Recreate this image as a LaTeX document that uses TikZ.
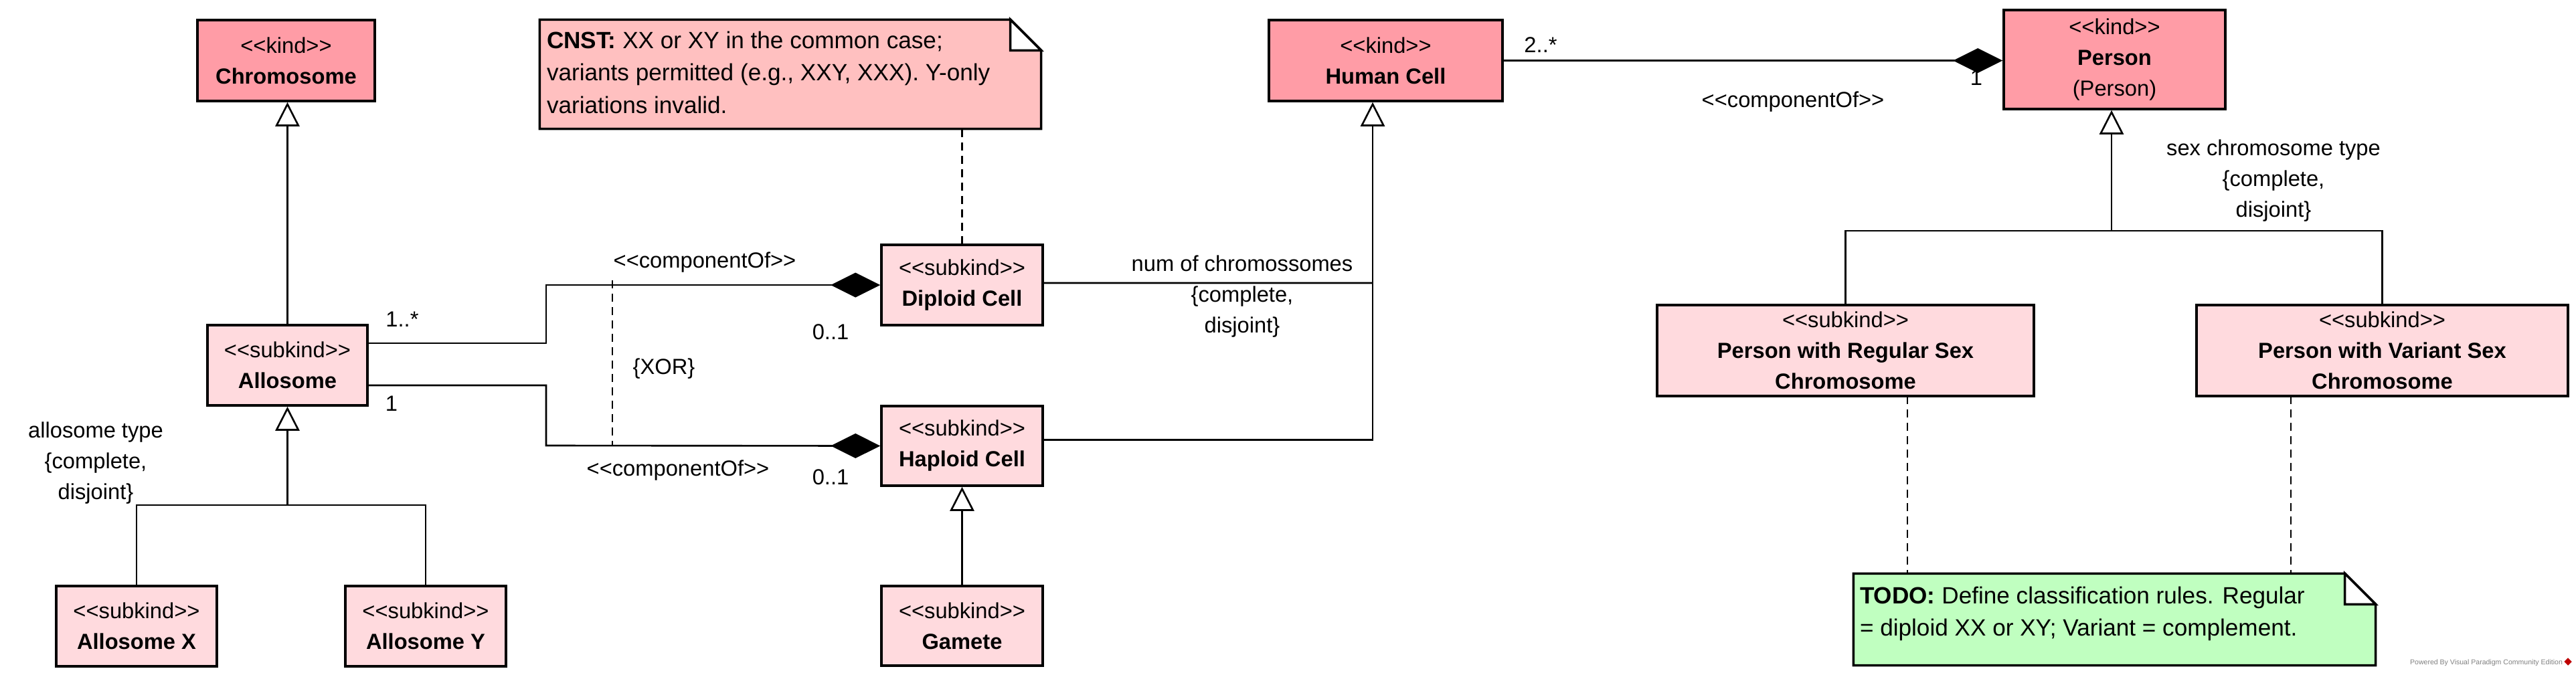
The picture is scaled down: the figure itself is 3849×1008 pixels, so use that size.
\documentclass[tikz,border=0pt]{standalone}
\usepackage{fontspec}
\setmainfont{Liberation Sans}
\usepackage{tikz}
\usetikzlibrary{arrows.meta, positioning, shapes.geometric}
\definecolor{kindfill}{HTML}{FF9CA6}
\definecolor{subfill}{HTML}{FFDADE}
\definecolor{cnstfill}{HTML}{FFC0C0}
\definecolor{todofill}{HTML}{C0FFC0}
\newcommand{\stereo}[1]{<\kern0pt<#1>\kern0pt>}

\begin{document}
\begin{tikzpicture}[
    x=0.1mm, y=-0.1mm,
    font=\fontsize{9.3}{13.1}\selectfont,
    umlbox/.style={draw=black, line width=1pt, inner sep=0pt, align=center},
    kind/.style={umlbox, fill=kindfill},
    subkind/.style={umlbox, fill=subfill},
    notefr/.style={inner sep=0pt},
    notetext/.style={inner sep=0pt, align=left, font=\fontsize{10}{13.8}\selectfont},
    conn/.style={line width=0.75pt},
    gen/.style={conn, -{Triangle[length=0.36cm, width=0.36cm, fill=white]}},
    comp/.style={conn, -{Diamond[length=0.74cm, width=0.37cm]}},
    link/.style={conn, dash pattern=on 0.12cm off 0.08cm},
    lbl/.style={inner sep=0pt, align=center}
]
\fill[white] (0,0) rectangle (3849,1008);
\useasboundingbox (0,0) rectangle (3849,1008);

% Kinds: Chromosome, Human Cell, Person
\node[kind, minimum width=2.65cm, minimum height=1.21cm] (chromosome) at (427.5,90.5) {\stereo{kind}\\\textbf{Chromosome}};
\node[kind, minimum width=3.49cm, minimum height=1.21cm] (humancell) at (2070.5,90.5) {\stereo{kind}\\\textbf{Human Cell}};
\node[kind, minimum width=3.31cm, minimum height=1.48cm] (person) at (3159.5,89) {\stereo{kind}\\\textbf{Person}\\(Person)};

% Subkinds of Chromosome
\node[subkind, minimum width=2.39cm, minimum height=1.2cm] (allosome) at (429.5,546) {\stereo{subkind}\\\textbf{Allosome}};
\node[subkind, minimum width=2.4cm, minimum height=1.2cm] (allox) at (204,936) {\stereo{subkind}\\\textbf{Allosome X}};
\node[subkind, minimum width=2.4cm, minimum height=1.2cm] (alloy) at (636,936) {\stereo{subkind}\\\textbf{Allosome Y}};

% Subkinds of Human Cell
\node[subkind, minimum width=2.41cm, minimum height=1.2cm] (diploid) at (1437.5,426) {\stereo{subkind}\\\textbf{Diploid Cell}};
\node[subkind, minimum width=2.41cm, minimum height=1.19cm] (haploid) at (1437.5,666.5) {\stereo{subkind}\\\textbf{Haploid Cell}};
\node[subkind, minimum width=2.41cm, minimum height=1.19cm] (gamete) at (1437.5,935.5) {\stereo{subkind}\\\textbf{Gamete}};

% Subkinds of Person
\node[subkind, minimum width=5.63cm, minimum height=1.36cm] (regular) at (2757.5,524) {\stereo{subkind}\\\textbf{Person with Regular Sex}\\\textbf{Chromosome}};
\node[subkind, minimum width=5.55cm, minimum height=1.36cm] (variant) at (3559.5,524) {\stereo{subkind}\\\textbf{Person with Variant Sex}\\\textbf{Chromosome}};

% Notes
\node[notefr, minimum width=7.48cm, minimum height=1.62cm] (cnst) at (1181,111) {};
\draw[line width=1pt, fill=cnstfill] (cnst.north west) -- ([xshift=-0.46cm]cnst.north east) -- ([yshift=-0.46cm]cnst.north east) -- (cnst.south east) -- (cnst.south west) -- cycle;
\draw[line width=1pt, fill=white] ([xshift=-0.46cm]cnst.north east) -- ([xshift=-0.46cm, yshift=-0.46cm]cnst.north east) -- ([yshift=-0.46cm]cnst.north east) -- cycle;
\node[notetext, below right=0.17cm and 0.10cm of cnst.north west] (cnsttext) {\textbf{CNST:} XX or XY in the common case;\\variants permitted (e.g., XXY, XXX). Y-only\\variations invalid.};

\node[notefr, minimum width=7.79cm, minimum height=1.36cm] (todo) at (3159.5,926) {};
\draw[line width=1pt, fill=todofill] (todo.north west) -- ([xshift=-0.46cm]todo.north east) -- ([yshift=-0.46cm]todo.north east) -- (todo.south east) -- (todo.south west) -- cycle;
\draw[line width=1pt, fill=white] ([xshift=-0.46cm]todo.north east) -- ([xshift=-0.46cm, yshift=-0.46cm]todo.north east) -- ([yshift=-0.46cm]todo.north east) -- cycle;
\node[notetext, below right=0.19cm and 0.09cm of todo.north west] (todotext) {\textbf{TODO:} Define classification rules. Regular\\= diploid XX or XY; Variant = complement.};

% Generalizations
\draw[gen] (allosome.north) -- (allosome.north |- chromosome.south);
\coordinate (alloset) at (429.5,755);
\draw[gen] (alloset) -- (allosome.south);
\draw[conn] (allox.north) |- (alloset) -| (alloy.north);
\draw[gen] (gamete.north) -- (haploid.south);
\coordinate (hcjoin) at (2051,423);
\draw[gen] (hcjoin) -- (hcjoin |- humancell.south);
\draw[conn] ([yshift=0.03cm]diploid.east) -- (hcjoin);
\draw[conn] ([yshift=0.09cm]haploid.east) -| (hcjoin);
\coordinate (pset) at (3155,345);
\draw[gen] (pset) -- (pset |- person.south);
\draw[conn] (regular.north) |- (pset) -| (variant.north);

% Compositions
\coordinate (bendtop) at (816,426);
\coordinate (bendbot) at (816,666);
\draw[comp] ([yshift=0.33cm]allosome.east) -| (bendtop) -- (diploid.west);
\draw[comp] ([yshift=-0.30cm]allosome.east) -| (bendbot) -- (haploid.west);
\draw[comp] (humancell.east) -- (humancell.east -| person.west);

% XOR constraint and note links
\coordinate (xortop) at (915,419);
\coordinate (xorbot) at (915,666);
\draw[link] (xortop) -- (xorbot);
\draw[link] (cnst.south -| diploid.north) -- (diploid.north);
\coordinate (regnote) at (2850,592);
\coordinate (varnote) at (3423,592);
\draw[link] (regnote) -- (regnote |- todo.north);
\draw[link] (varnote) -- (varnote |- todo.north);

% Labels
\node[lbl] (mult1) at (601,477) {1..*};
\node[lbl] (mult2) at (585,603) {1};
\node[lbl] (stereo1) at (1053,392) {\stereo{componentOf}};
\node[lbl] (mult3) at (1241,496) {0..1};
\node[lbl] (stereo2) at (1013,703) {\stereo{componentOf}};
\node[lbl] (mult4) at (1241,713) {0..1};
\node[lbl] (xor) at (992,551) {\{XOR\}};
\node[lbl] (allolbl) at (143,692) {allosome type\\\{complete,\\disjoint\}};
\node[lbl] (numlbl) at (1856,443) {num of chromossomes\\\{complete,\\disjoint\}};
\node[lbl] (mult5) at (2302,67) {2..*};
\node[lbl] (mult6) at (2953,116) {1};
\node[lbl] (stereo3) at (2679,152) {\stereo{componentOf}};
\node[lbl] (sexlbl) at (3397,270) {sex chromosome type\\\{complete,\\disjoint\}};

% Watermark
\node[inner sep=0pt, text=gray, font=\fontsize{3}{3.6}\selectfont] (powered) at (3715,991) {Powered By Visual Paradigm Community Edition};
\node[diamond, fill=red!75!black, minimum size=0.12cm, inner sep=0pt] (vplogo) at (3837,989) {};

\end{tikzpicture}
\end{document}
